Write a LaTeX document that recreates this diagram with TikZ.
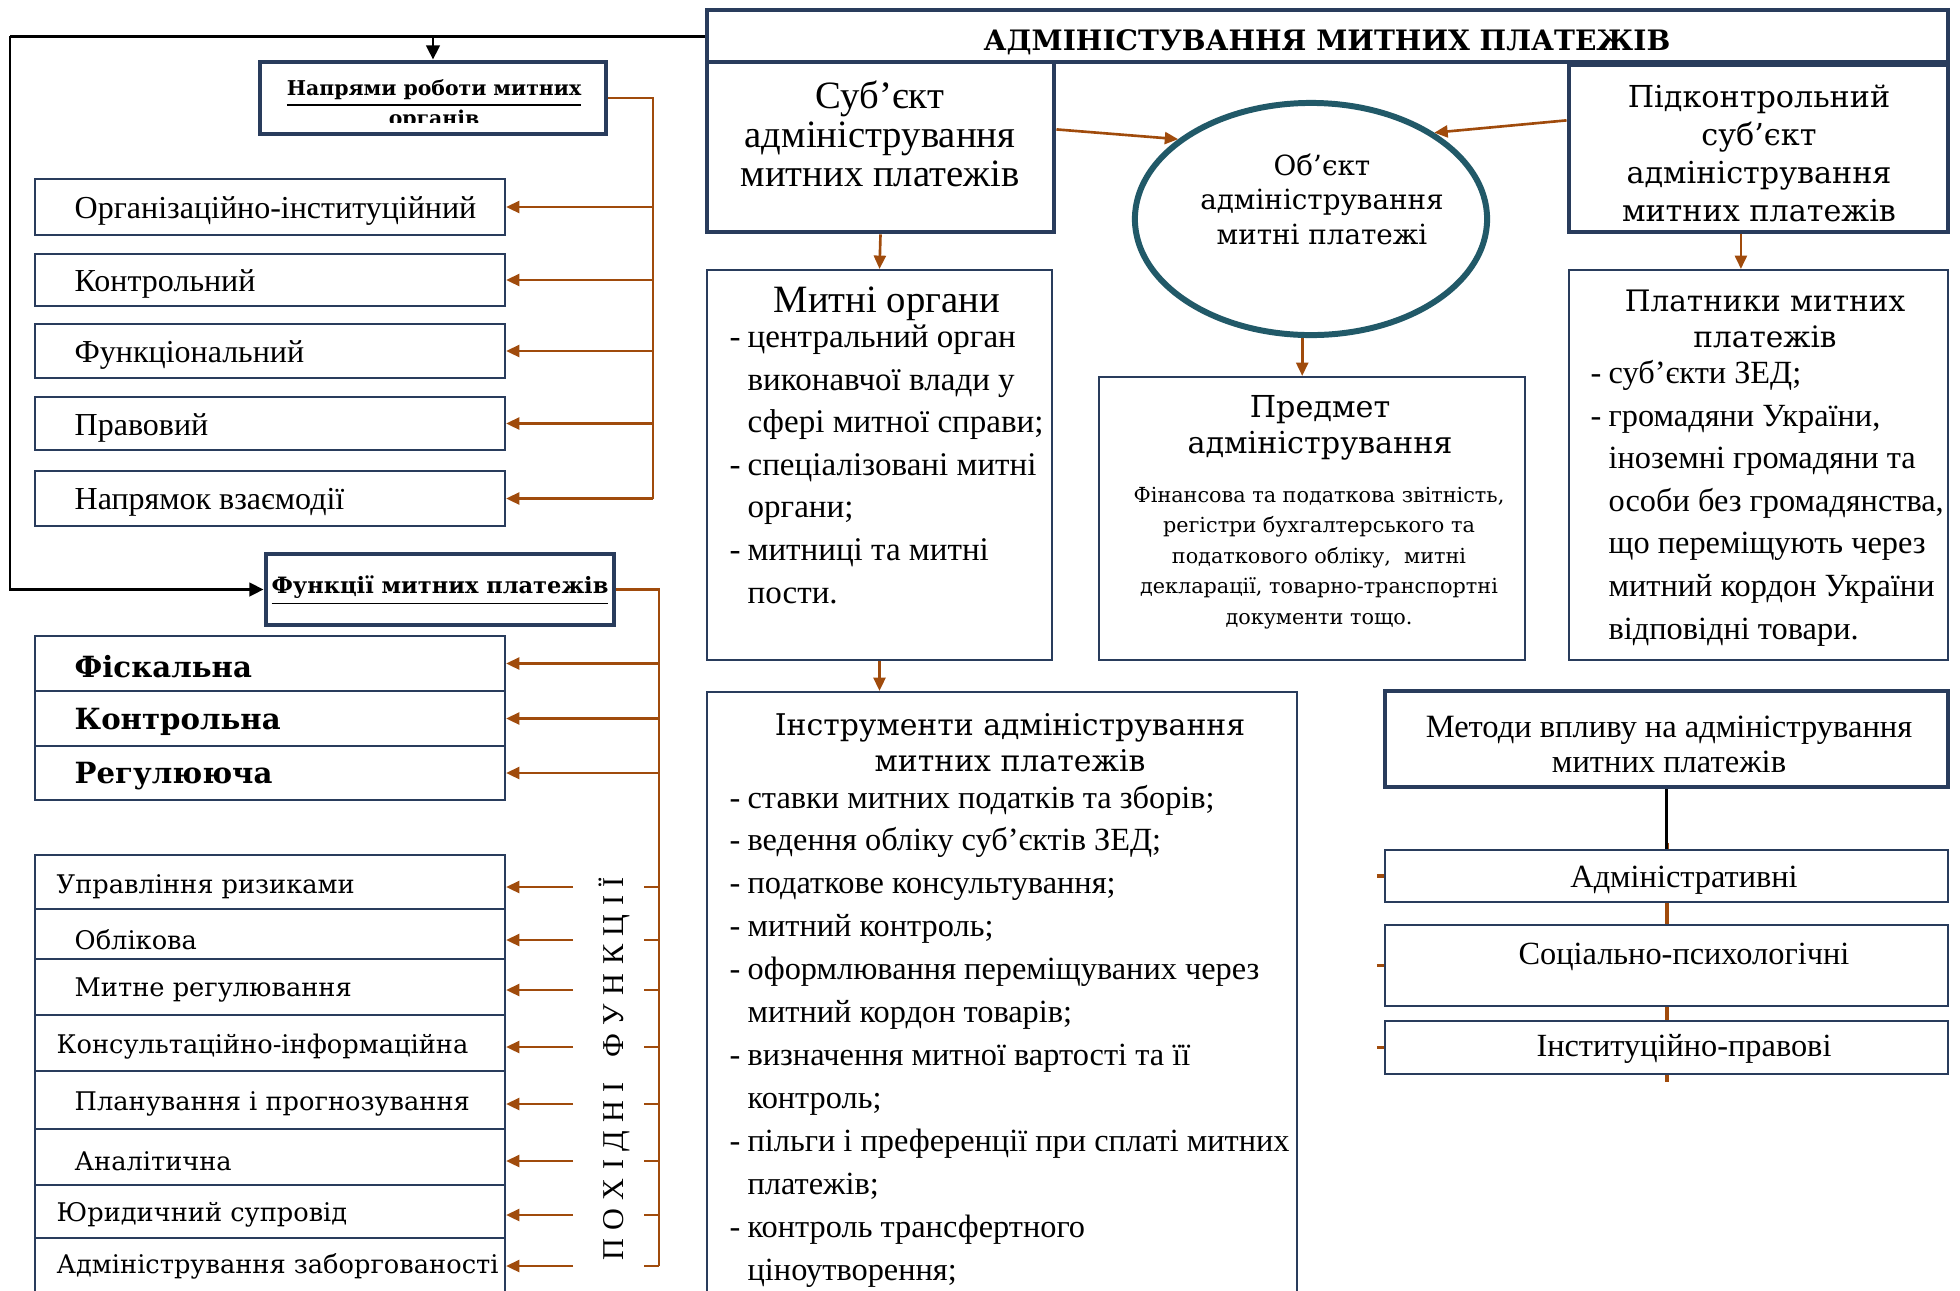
\documentclass[tikz,border=0pt]{standalone}
\usepackage{fontspec}
\setmainfont{Liberation Serif}
\newfontfamily\bk{DejaVu Serif}
\usetikzlibrary{arrows.meta,shapes.geometric,fit,positioning}

\definecolor{boxblue}{RGB}{41,60,92}
\definecolor{rust}{RGB}{160,75,12}
\definecolor{ovalteal}{RGB}{33,89,104}

\newcommand{\fsz}[2]{\fontsize{#1}{#2}\selectfont}
\newcommand{\dsh}{\makebox[5.1pt][l]{-}}
\newcommand{\indn}{\hspace*{5.1pt}}
\newcommand{\lsp}{\hspace{2.4pt}}

\tikzset{
  heavybox/.style={draw=boxblue, line width=1.4pt, fill=white, inner sep=0pt},
  lightbox/.style={draw=boxblue, line width=0.6pt, fill=white, inner sep=0pt},
  oarrow/.style={draw=rust, line width=0.75pt, -{Triangle[length=3.8pt,width=3.4pt]}},
  barrow/.style={draw=black, line width=0.85pt, -{Triangle[length=4pt,width=3.8pt]}},
  oline/.style={draw=rust, line width=0.75pt},
  ctext/.style={inner sep=0pt, align=center},
  ltext/.style={inner sep=0pt, align=left, anchor=base west},
}

\begin{document}
\begin{tikzpicture}[x=0.01cm, y=-0.01cm]
\useasboundingbox (0,0) rectangle (1960,1290);

% top row
\node[heavybox, fit={(707,10)(1948,62)}] (title) {};
\node[ctext, font=\bk\bfseries\fsz{8}{10}] (titletxt) at (1327,42) {АДМІНІСТУВАННЯ МИТНИХ ПЛАТЕЖІВ};

\node[heavybox, fit={(707,62)(1054,232)}] (subj) {};
\node[ctext, font=\fsz{11}{11}] (subjtxt) at (880,134) {Суб’єкт\\адміністрування\\митних платежів};

\node[heavybox, fit={(1569,65)(1948,232)}] (pidk) {};
\node[ctext, font=\bk\fsz{8.6}{10.8}] (pidktxt) at (1759,153) {Підконтрольний\\суб’єкт\\адміністрування\\митних платежів};

\node[ellipse, draw=ovalteal, line width=1.7pt, minimum width=3.52cm, minimum height=2.32cm, inner sep=0pt] (obj) at (1311,219) {};
\node[ctext, font=\bk\fsz{7.9}{9.8}] (objtxt) at (1322,199) {Об’єкт\\адміністрування\\митні платежі};

\draw[oarrow] ([yshift=5pt]subj.east) -- (obj.149);
\draw[oarrow] ([yshift=8pt]pidk.west) -- (obj.35);

% second row
\node[lightbox, fit={(707,270)(1052,660)}] (mo) {};
\node[ctext, font=\fsz{11}{12}] (motitle) at (887,304) {Митні органи};
\node[ltext, font=\fsz{9.4}{12.1}] (molist) at (729,603) {\dsh центральний орган\\
  \indn виконавчої влади у\\
  \indn сфері митної справи;\\
  \dsh спеціалізовані митні\\
  \indn органи;\\
  \dsh митниці та митні\\
  \indn пости.};
\draw[oarrow] (subj.south) -- (mo.north);

\node[lightbox, fit={(1099,377)(1525,660)}] (pr) {};
\node[ctext, font=\bk\fsz{8.6}{10.2}] (prtitle) at (1320,428) {Предмет\\адміністрування};
\node[ctext, font=\bk\fsz{5.9}{8.7}] (prtxt) at (1319,558) {Фінансова та податкова звітність,\\регістри бухгалтерського та\\податкового обліку,\ \ митні\\декларації, товарно-транспортні\\документи тощо.};
\draw[oarrow] ([xshift=-2.5pt]obj.south) -- ([xshift=-2.5pt]obj.south |- pr.north);

\node[lightbox, fit={(1569,270)(1948,660)}] (pl) {};
\node[ctext, font=\bk\fsz{8.4}{10.2}] (pltitle) at (1765,319) {Платники митних\\платежів};
\node[ltext, font=\fsz{9.2}{12.1}] (pllist) at (1590,639) {\dsh суб’єкти ЗЕД;\\
  \dsh громадяни України,\\
  \indn іноземні громадяни та\\
  \indn особи без громадянства,\\
  \indn що переміщують через\\
  \indn митний кордон України\\
  \indn відповідні товари.};
\draw[oarrow] ([xshift=-5pt]pidk.south) -- ([xshift=-5pt]pidk.south |- pl.north);

% instruments
\node[lightbox, fit={(707,692)(1297,1310)}] (inst) {};
\node[ctext, font=\bk\fsz{8.5}{10.2}] (insttitle) at (1010,743) {Інструменти адміністрування\\митних платежів};
\node[ltext, font=\fsz{9.2}{12.2}] (instlist) at (729,1280) {\dsh ставки митних податків та зборів;\\
  \dsh ведення обліку суб’єктів ЗЕД;\\
  \dsh податкове консультування;\\
  \dsh митний контроль;\\
  \dsh оформлювання переміщуваних через\\
  \indn митний кордон товарів;\\
  \dsh визначення митної вартості та її\\
  \indn контроль;\\
  \dsh пільги і преференції при сплаті митних\\
  \indn платежів;\\
  \dsh контроль трансфертного\\
  \indn ціноутворення;};
\draw[oarrow] (mo.south) -- (mo.south |- inst.north);

% methods
\node[heavybox, fit={(1385,691)(1948,787)}] (met) {};
\node[ctext, font=\fsz{9.25}{10}] (mettxt) at (1669,744) {Методи впливу на адміністрування\\митних платежів};
\coordinate (mbustop) at (1667,843);
\coordinate (mbusend) at (1667,1082);
\draw[rust, line width=1.3pt] (mbustop) -- (mbusend);
\foreach \n/\ya/\yb/\yt/\t in {madm/850/902/880/Адміністративні, msoc/925/1006/957/Соціально-психологічні, minst/1021/1074/1049/Інституційно-правові}{
  \node[lightbox, fit={(1385,\ya)(1948,\yb)}] (\n) {};
  \node[ctext, font=\fsz{9.2}{10}] (\n txt) at (1684,\yt) {\t};
  \draw[rust, line width=1pt] ([xshift=-2pt]\n.west) -- (\n.west);
}
\draw[black, line width=0.6pt] (met.south) -- (met.south |- madm.north);

% left: directions
\coordinate (lc) at (10,36);
\node[heavybox, fit={(260,62)(606,134)}] (nap) {};
\begin{scope}
  \clip (262,64) rectangle (604,122);
  \node[ctext, font=\bk\bfseries\fsz{5.8}{6.8}] (naptxt) at (434,105) {\underline{Напрями роботи митних}\\органів};
\end{scope}
\draw[barrow] (title.west) -- (lc) |- (nap.north |- lc) -- (nap.north);

\coordinate (nbus) at (653,0);
\foreach \i/\ya/\yb/\t in {1/179/235/Організаційно-інституційний, 2/254/306/Контрольний, 3/324/378/Функціональний, 4/397/450/Правовий, 5/471/526/Напрямок взаємодії}{
  \node[lightbox, fit={(35,\ya)(505,\yb)}] (n\i) {};
  \node[inner sep=0pt, anchor=west, font=\fsz{9.1}{10}] (nt\i) at (74,{(\ya+\yb)/2+4}) {\t};
  \draw[oarrow] (nbus |- n\i.east) -- (n\i.east);
}
\draw[oline] (nap.east) -| (nbus |- n5.east);

% left: functions
\node[heavybox, fit={(266,554)(614,625)}] (fn) {};
\node[ctext, font=\bk\bfseries\fsz{6.4}{8}] (fntxt) at (440,591) {\underline{Функції митних платежів}};
\draw[barrow] (lc) |- (fn.west);

\coordinate (fbus) at (659,0);
\coordinate (ftick) at (644,0);
\coordinate (fstart) at (573,0);
\foreach \i/\ya/\yb/\t in {1/636/691/Фіскальна, 2/691/746/Контрольна, 3/746/800/Регулююча}{
  \node[lightbox, fit={(35,\ya)(505,\yb)}] (f\i) {};
  \node[inner sep=0pt, anchor=west, font=\bk\bfseries\fsz{8.3}{9}] (ft\i) at (74,{(\ya+\yb)/2+3}) {\t};
  \draw[oarrow] (fbus |- f\i.east) -- (f\i.east);
}
\foreach \i/\ya/\yb/\xt/\yt/\t in {1/855/909/56/887/Управління ризиками, 2/909/959/74/940/Облікова, 3/959/1015/74/990/Митне регулювання, 4/1015/1071/56/1047/Консультаційно-інформаційна, 5/1071/1129/74/1104/Планування і прогнозування, 6/1129/1185/74/1161/Аналітична, 7/1185/1238/56/1215/Юридичний супровід, 8/1238/1300/56/1266/Адміністрування заборгованості}{
  \node[lightbox, fit={(35,\ya)(505,\yb)}] (d\i) {};
  \node[inner sep=0pt, anchor=west, font=\bk\fsz{7.3}{9}] (dt\i) at (\xt,\yt) {\t};
  \draw[oarrow] (fstart |- dt\i.east) -- (d\i.east |- dt\i.east);
  \draw[oline] (fbus |- dt\i.east) -- (ftick |- dt\i.east);
}
\draw[oline] (fn.east) -| (fbus |- dt8.east);
\node[rotate=90, inner sep=0pt, font=\fsz{8.6}{9}] (derived) at (614,1069) {П\lsp О\lsp Х\lsp І\lsp Д\lsp Н\lsp І\hspace{7pt}Ф\lsp У\lsp Н\lsp К\lsp Ц\lsp І\lsp Ї};

\end{tikzpicture}
\end{document}
